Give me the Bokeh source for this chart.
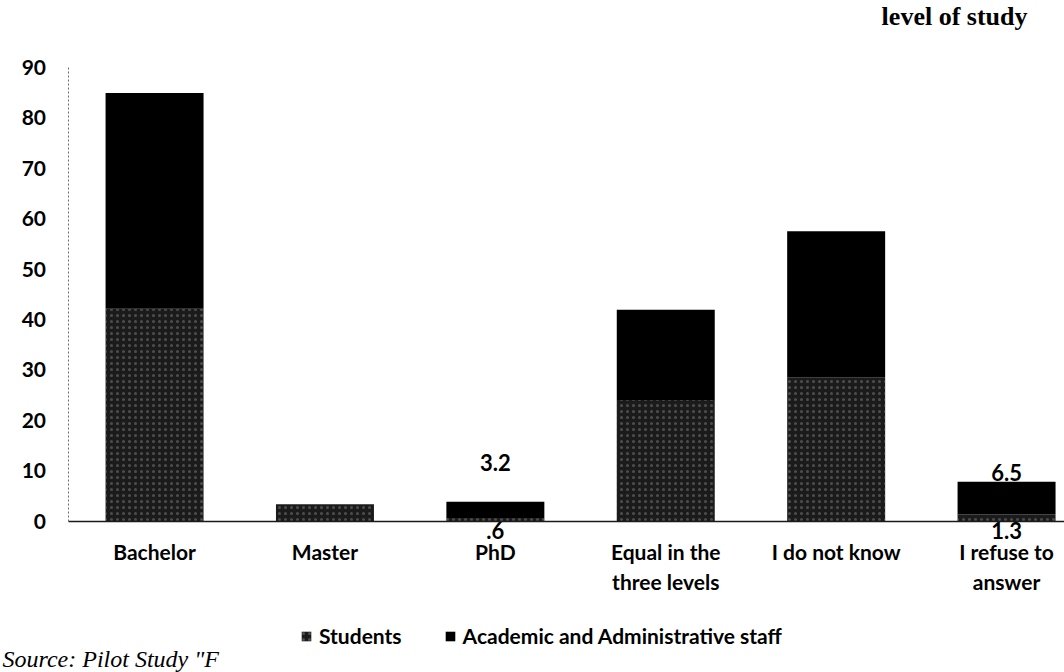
from bokeh.plotting import figure
from bokeh.models import (ColumnDataSource, Range1d, FixedTicker, Legend,
                          LegendItem, Label)
from bokeh.embed import file_html
from bokeh.resources import INLINE

# Preferred level of study, percentage of each group (stacked)
categories = ["Bachelor", "Master", "PhD", "Equal in the\nthree levels",
              "I do not know", "I refuse to\nanswer"]
students = [42.1, 3.3, 0.6, 24.0, 28.5, 1.3]
staff = [42.8, 0.0, 3.2, 17.9, 29.0, 6.5]
y_ticks = [0, 10, 20, 30, 40, 50, 60, 70, 80, 90]
labelled = [2, 5]          # bars whose segment values are printed

title_text = "level of study"
source_text = 'Source: Pilot Study "F'

x = list(range(len(categories)))
total = [s + a for s, a in zip(students, staff)]
src = ColumnDataSource(data=dict(x=x, students=students, staff=staff,
                                 total=total))

FONT = "Lato"
W, H = 1064, 672
PX_X = 170.4      # pixels per category
PX_Y = 5.04       # pixels per percentage point
AXIS_X = 67.5     # pixel column of the value axis
BASE_Y = 520.5    # pixel row of the zero line (from the top)

# the frame covers the whole page so that labels and the legend outside
# the plotting area are not clipped; axes are pinned inside it
x0 = -0.508 - AXIS_X / PX_X
y0 = -(H - BASE_Y) / PX_Y
p = figure(width=W, height=H, output_backend="svg", toolbar_location=None,
           x_range=Range1d(x0, x0 + W / PX_X),
           y_range=Range1d(y0, y0 + H / PX_Y),
           min_border_left=0, min_border_right=0,
           min_border_top=0, min_border_bottom=0)
p.outline_line_color = None
p.xgrid.visible = False
p.ygrid.visible = False
p.background_fill_color = "white"
p.border_fill_color = "white"

BAR_W = 0.575
r_students = p.vbar(x="x", width=BAR_W, bottom=0, top="students", source=src,
                    fill_color="#1b1b1b", line_color=None,
                    hatch_pattern="dot", hatch_color="#8c8c8c",
                    hatch_scale=6, hatch_weight=1.0, hatch_alpha=0.45)
r_staff = p.vbar(x="x", width=BAR_W, bottom="students", top="total",
                 source=src, fill_color="black", line_color=None)

# value axis
ya = p.yaxis[0]
ya.fixed_location = -0.508
ya.bounds = (0, 90)
ya.ticker = FixedTicker(ticks=y_ticks)
ya.major_tick_out = 0
ya.major_tick_in = 0
ya.minor_tick_out = 0
ya.minor_tick_in = 0
ya.major_label_standoff = 22
ya.major_label_text_font = FONT
ya.major_label_text_font_style = "bold"
ya.major_label_text_font_size = "21px"
ya.major_label_text_color = "black"
ya.axis_line_color = "#6a6a6a"
ya.axis_line_dash = "2 2"
ya.axis_line_width = 1

# category axis
xa = p.xaxis[0]
xa.fixed_location = 0
xa.bounds = (-0.508, x0 + W / PX_X)
xa.ticker = FixedTicker(ticks=x)
xa.major_label_overrides = {i: c for i, c in zip(x, categories)}
xa.major_tick_out = 0
xa.major_tick_in = 0
xa.minor_tick_out = 0
xa.minor_tick_in = 0
xa.major_label_standoff = 18
xa.major_label_text_font = FONT
xa.major_label_text_font_style = "bold"
xa.major_label_text_font_size = "21px"
xa.major_label_text_color = "black"
xa.axis_line_color = "#1a1a1a"
xa.axis_line_width = 1.6


def fmt(v):
    s = f"{v:g}"
    return s[1:] if s.startswith("0.") else s


# segment values: staff above the bar, students just under the zero line
staff_gap = {2: 39, 5: 9}
for i in labelled:
    p.add_layout(Label(x=x[i], y=total[i], text=fmt(staff[i]),
                       y_offset=staff_gap[i], text_align="center",
                       text_baseline="alphabetic", text_font=FONT,
                       text_font_style="bold",
                       text_font_size="22px", text_color="black"))
    p.add_layout(Label(x=x[i], y=0, text=fmt(students[i]),
                       y_offset=-1, text_align="center",
                       text_baseline="top", text_font=FONT,
                       text_font_style="bold",
                       text_font_size="22px", text_color="black"))

legend = Legend(items=[LegendItem(label="Students", renderers=[r_students]),
                       LegendItem(label="Academic and Administrative staff",
                                  renderers=[r_staff])],
                orientation="horizontal", location=(300, 24),
                glyph_width=12, glyph_height=12, label_standoff=7,
                spacing=42, padding=0, margin=0,
                border_line_color=None, background_fill_alpha=0,
                label_text_font=FONT, label_text_font_style="bold",
                label_text_font_size="21px", label_text_color="black")
p.add_layout(legend)

# caption fragments at the page edges
p.add_layout(Label(x=1027, y=H - 1, x_units="screen", y_units="screen",
                   text=title_text, text_align="right",
                   text_baseline="top", text_font="Liberation Serif",
                   text_font_style="bold", text_font_size="26px",
                   text_color="black"))
p.add_layout(Label(x=2, y=1, x_units="screen", y_units="screen",
                   text=source_text, text_align="left",
                   text_baseline="bottom", text_font="Liberation Serif",
                   text_font_style="italic", text_font_size="24px",
                   text_color="black"))

open("out.html", "w").write(file_html(p, INLINE))
